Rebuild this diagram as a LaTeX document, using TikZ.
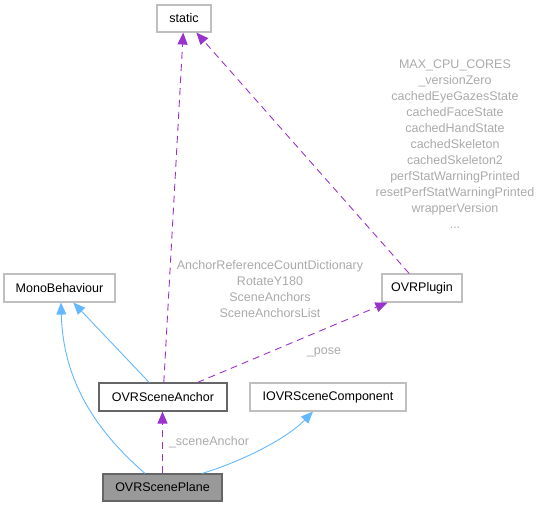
\documentclass[tikz,border=0pt]{standalone}
\usepackage{fontspec}
\setmainfont{Liberation Sans}
\usetikzlibrary{arrows.meta}

\begin{document}
\begin{tikzpicture}[
  x=1pt, y=-1pt,
  font=\fontsize{12.5}{16}\selectfont,
  class/.style={
    draw=gray!50,
    line width=1.1pt,
    fill=white,
    inner sep=0pt,
    minimum height=28pt
  },
  current/.style={
    class,
    draw=black!60,
    fill=black!40
  },
  used/.style={
    class,
    draw=black!60
  },
  usage/.style={
    draw={rgb,255:red,154;green,50;blue,205},
    line width=0.9pt,
    dash pattern=on 7pt off 5pt,
    -{Triangle[length=12pt,width=10pt,fill={rgb,255:red,154;green,50;blue,205}]}
  },
  inherit/.style={
    draw={rgb,255:red,99;green,184;blue,255},
    line width=0.9pt,
    -{Triangle[length=12pt,width=10pt,fill={rgb,255:red,99;green,184;blue,255}]}
  },
  memberlabel/.style={
    text={rgb,255:red,170;green,170;blue,170},
    inner sep=0pt,
    align=center
  }
]
\useasboundingbox (0,0) rectangle (542,507);

% Nodes
\node[class, minimum width=54pt, minimum height=27pt] (static) at (184,18.5) {static};
\node[class, minimum width=111pt] (mono) at (59.5,288) {MonoBehaviour};
\node[class, minimum width=80pt] (plugin) at (422,288) {OVRPlugin};
\node[used, minimum width=128pt] (anchor) at (163,397) {OVRSceneAnchor};
\node[class, minimum width=156pt] (iovr) at (328,397) {IOVRSceneComponent};
\node[current, minimum width=119pt, minimum height=27pt] (plane) at (162.5,487.5) {OVRScenePlane};

% Labels
\node[memberlabel] (pluginvars) at (455,144) {MAX\_CPU\_CORES\\\_versionZero\\cachedEyeGazesState\\cachedFaceState\\cachedHandState\\cachedSkeleton\\cachedSkeleton2\\perfStatWarningPrinted\\resetPerfStatWarningPrinted\\wrapperVersion\\...};
\node[memberlabel] (anchorvars) at (270,289) {AnchorReferenceCountDictionary\\RotateY180\\SceneAnchors\\SceneAnchorsList};
\node[memberlabel] (poselabel) at (324,352) {\_pose};
\node[memberlabel] (scenelabel) at (209,442) {\_sceneAnchor};

% Connections
\draw[usage] (anchor) -- (static);
\draw[usage] (plugin) -- (static);
\draw[usage] (anchor) -- (plugin);
\draw[inherit] (anchor) -- (mono);
\draw[inherit] ([xshift=-17.5pt]plane.north) .. controls (95,430) and (63,380) .. ([xshift=1.5pt]mono.south);
\draw[inherit] ([xshift=39.5pt]plane.north) .. controls (240,462) and (285,440) .. ([xshift=-15pt]iovr.south);
\draw[usage] (plane.north) -- (plane.north |- anchor.south);

\end{tikzpicture}
\end{document}
